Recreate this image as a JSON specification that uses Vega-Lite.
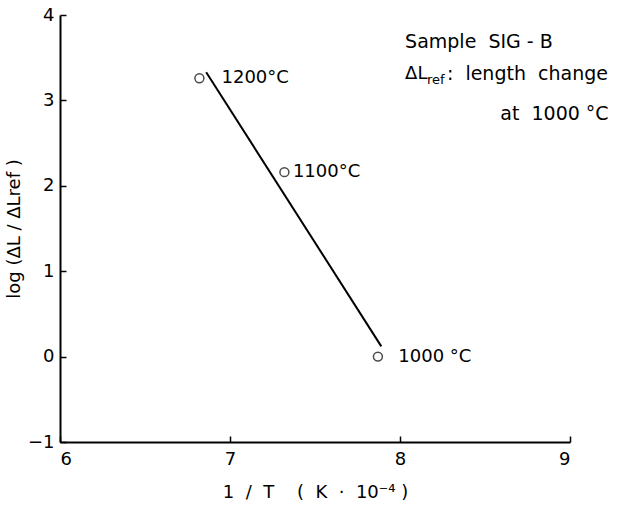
{
  "$schema": "https://vega.github.io/schema/vega-lite/v6.json",
  "width": 510,
  "height": 427,
  "autosize": {"type": "none"},
  "padding": {"left": 60, "top": 15, "right": 65, "bottom": 63},
  "background": "white",
  "config": {
    "view": {"stroke": null},
    "font": "DejaVu Sans",
    "axis": {
      "grid": false,
      "domainColor": "black",
      "domainWidth": 2,
      "tickColor": "black",
      "tickWidth": 1.5,
      "tickSize": -6,
      "labelFontSize": 18,
      "labelColor": "black",
      "labelFont": "DejaVu Sans",
      "titleFontSize": 18,
      "titleFontWeight": "normal",
      "titleColor": "black",
      "titleFont": "DejaVu Sans"
    }
  },
  "datasets": {
    "points": [
      {"inv_T": 6.82, "log_ratio": 3.26, "label": "1200°C", "label_x": 6.95},
      {"inv_T": 7.32, "log_ratio": 2.16, "label": "1100°C", "label_x": 7.37},
      {"inv_T": 7.87, "log_ratio": 0.0, "label": "1000 °C", "label_x": 7.99}
    ],
    "fit": [
      {"inv_T": 6.86, "log_ratio": 3.33},
      {"inv_T": 7.89, "log_ratio": 0.12}
    ],
    "notes": [
      {"x": 8.03, "y": 3.684, "text": "Sample\u00a0\u00a0SIG\u00a0-\u00a0B"},
      {"x": 8.276, "y": 3.31, "text": ":\u00a0\u00a0length\u00a0\u00a0change"},
      {"x": 8.59, "y": 2.84, "text": "at\u00a0\u00a01000\u00a0°C"}
    ],
    "delta": [
      {"x": 8.03, "y": 3.31, "text": "ΔL"}
    ],
    "subs": [
      {"x": 8.159, "y": 3.24, "text": "ref"}
    ]
  },
  "layer": [
    {
      "data": {"name": "fit"},
      "mark": {"type": "line", "color": "black", "strokeWidth": 2},
      "encoding": {
        "x": {
          "field": "inv_T", "type": "quantitative",
          "scale": {"domain": [6, 9], "nice": false, "zero": false},
          "axis": {"values": [6, 7, 8, 9], "format": "d", "title": "1\u00a0\u00a0/\u00a0\u00a0T\u00a0\u00a0\u00a0\u00a0(\u00a0\u00a0K\u00a0\u00a0·\u00a0\u00a010⁻⁴\u00a0)", "titlePadding": 15, "labelPadding": 14}
        },
        "y": {
          "field": "log_ratio", "type": "quantitative",
          "scale": {"domain": [-1, 4], "nice": false, "zero": false},
          "axis": {"values": [-1, 0, 1, 2, 3, 4], "format": "d", "title": "log\u00a0(ΔL\u00a0/\u00a0ΔLref\u00a0)", "titlePadding": 4, "labelPadding": 12}
        }
      }
    },
    {
      "data": {"name": "points"},
      "mark": {"type": "point", "shape": "circle", "filled": false, "color": "black", "strokeWidth": 1.5, "size": 80},
      "encoding": {
        "x": {"field": "inv_T", "type": "quantitative"},
        "y": {"field": "log_ratio", "type": "quantitative"}
      }
    },
    {
      "data": {"name": "points"},
      "mark": {"type": "text", "align": "left", "baseline": "middle", "fontSize": 18, "color": "black"},
      "encoding": {
        "x": {"field": "label_x", "type": "quantitative"},
        "y": {"field": "log_ratio", "type": "quantitative"},
        "text": {"field": "label"}
      }
    },
    {
      "data": {"name": "notes"},
      "mark": {"type": "text", "align": "left", "baseline": "middle", "fontSize": 19, "color": "black"},
      "encoding": {
        "x": {"field": "x", "type": "quantitative"},
        "y": {"field": "y", "type": "quantitative"},
        "text": {"field": "text"}
      }
    },
    {
      "data": {"name": "delta"},
      "mark": {"type": "text", "align": "left", "baseline": "middle", "fontSize": 18, "color": "black"},
      "encoding": {
        "x": {"field": "x", "type": "quantitative"},
        "y": {"field": "y", "type": "quantitative"},
        "text": {"field": "text"}
      }
    },
    {
      "data": {"name": "subs"},
      "mark": {"type": "text", "align": "left", "baseline": "middle", "fontSize": 13, "color": "black"},
      "encoding": {
        "x": {"field": "x", "type": "quantitative"},
        "y": {"field": "y", "type": "quantitative"},
        "text": {"field": "text"}
      }
    }
  ]
}
